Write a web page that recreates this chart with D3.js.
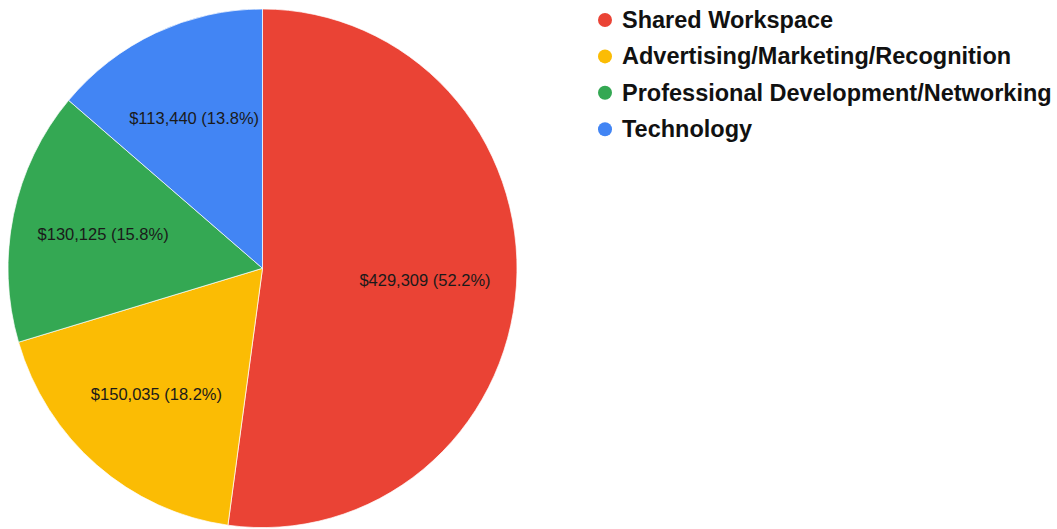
<!DOCTYPE html>
<html>
<head>
<meta charset="utf-8">
<script src="https://cdn.jsdelivr.net/npm/d3@7"></script>
<style>
  html, body { margin: 0; padding: 0; background: #fff; }
  svg { display: block; }
</style>
</head>
<body>
<svg id="chart" width="1057" height="529"></svg>
<script>
const categories = ["Shared Workspace", "Advertising/Marketing/Recognition", "Professional Development/Networking", "Technology"];
const values = [429309, 150035, 130125, 113440];
const colors = ["#ea4335", "#fbbc04", "#34a853", "#4285f4"];

const svg = d3.select("#chart");
const cx = 262.5, cy = 268.3, R = 254.5, sy = 259.3 / 254.5;

const data = categories.map((c, i) => ({ name: c, value: values[i], color: colors[i] }));
const total = d3.sum(values);

const pie = d3.pie().value(d => d.value).sort(null);
const arcs = pie(data);
const arc = d3.arc().innerRadius(0).outerRadius(R);
const labelArc = d3.arc().innerRadius(R * 0.64).outerRadius(R * 0.64);

const g = svg.append("g").attr("transform", `translate(${cx},${cy}) scale(1,${sy})`);
g.selectAll("path.slice")
  .data(arcs)
  .enter().append("path")
  .attr("class", "slice")
  .attr("d", arc)
  .attr("fill", d => d.data.color)
  .attr("stroke", "#ffffff")
  .attr("stroke-width", 0.7);

const fmt = d3.format(",");
const pct = d3.format(".1%");
const lg = svg.append("g").attr("transform", `translate(${cx},${cy})`);
lg.selectAll("text.lbl")
  .data(arcs)
  .enter().append("text")
  .attr("class", "lbl")
  .attr("transform", d => { const c = labelArc.centroid(d); return `translate(${c[0]},${c[1] * sy})`; })
  .attr("text-anchor", "middle")
  .attr("dominant-baseline", "central")
  .attr("font-family", "Arial, 'Liberation Sans', sans-serif")
  .attr("font-size", 16.5)
  .attr("fill", "#1a1a1a")
  .text(d => `$${fmt(d.data.value)} (${pct(d.data.value / total)})`);

const legend = svg.append("g").attr("transform", "translate(605,20)");
const rowH = 36.4;
const items = legend.selectAll("g.item")
  .data(data)
  .enter().append("g")
  .attr("class", "item")
  .attr("transform", (d, i) => `translate(0,${i * rowH})`);
items.append("circle")
  .attr("r", 7)
  .attr("fill", d => d.color);
items.append("text")
  .attr("x", 17)
  .attr("dominant-baseline", "central")
  .attr("font-family", "Arial, 'Liberation Sans', sans-serif")
  .attr("font-weight", "bold")
  .attr("font-size", 23.5)
  .attr("fill", "#111")
  .text(d => d.name);
</script>
</body>
</html>
